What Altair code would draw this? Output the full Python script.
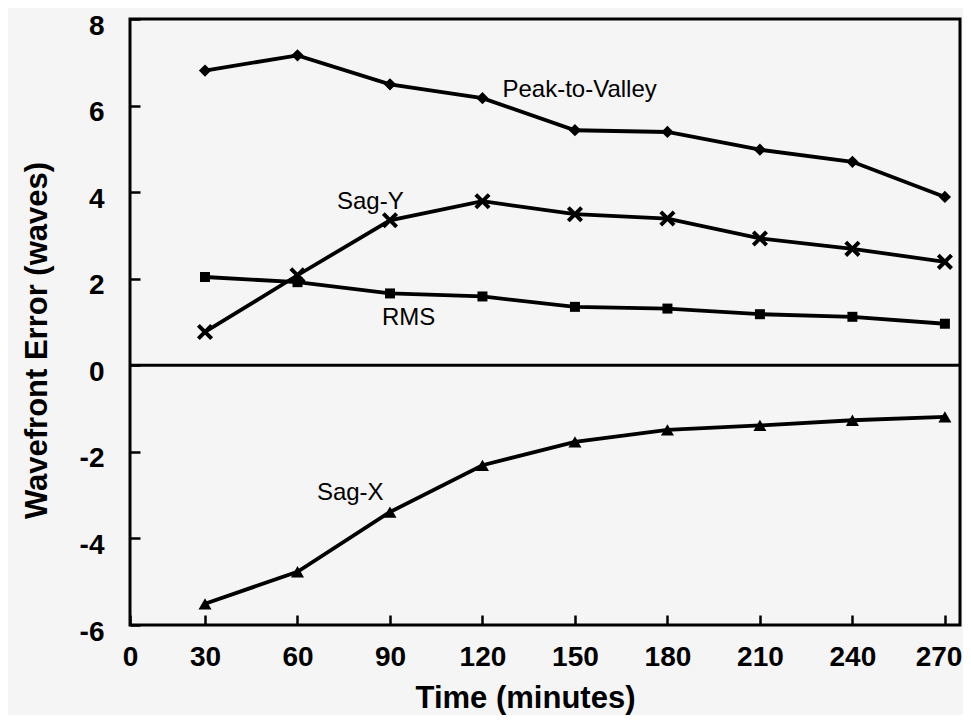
import altair as alt
import pandas as pd

times = [30, 60, 90, 120, 150, 180, 210, 240, 270]
peak_to_valley = [6.81, 7.16, 6.49, 6.17, 5.43, 5.39, 4.98, 4.70, 3.89]
sag_y = [0.77, 2.08, 3.35, 3.79, 3.49, 3.39, 2.93, 2.69, 2.39]
rms = [2.04, 1.92, 1.66, 1.59, 1.35, 1.31, 1.18, 1.12, 0.96]
sag_x = [-5.51, -4.77, -3.39, -2.31, -1.77, -1.49, -1.39, -1.27, -1.19]

series_names = ["Peak-to-Valley", "Sag-Y", "RMS", "Sag-X"]
series_values = [peak_to_valley, sag_y, rms, sag_x]
marker_sizes = [150, 260, 100, 170]

label_text = ["Peak-to-Valley", "Sag-Y", "RMS", "Sag-X"]
label_t = [126.5, 72.8, 87.4, 66.3]
label_v = [6.37, 3.78, 1.09, -2.95]

x_ticks = [5.67, 30, 60, 90, 120, 150, 180, 210, 240, 270]
y_ticks = [-6, -4, -2, 0, 2, 4, 6, 8]
x_domain = [5.67, 274.9]
y_domain = [-6, 8]

rows = []
for name, vals, sz in zip(series_names, series_values, marker_sizes):
    for t, v in zip(times, vals):
        rows.append({"series": name, "t": t, "v": v, "sz": sz})
df = pd.DataFrame(rows)
labels_df = pd.DataFrame({"text": label_text, "t": label_t, "v": label_v})

x_enc = alt.X(
    "t:Q",
    scale=alt.Scale(domain=x_domain, nice=False, zero=False),
    axis=alt.Axis(
        title="Time (minutes)",
        values=x_ticks,
        labelExpr="datum.value < 20 ? '0' : format(datum.value, 'd')",
        labelAlign={"condition": {"test": "datum.value > 260", "value": "right"}, "value": "center"},
        labelOffset={"condition": {"test": "datum.value > 260", "value": 17}, "value": 0},
        offset=-10, tickSize=10, tickWidth=2.5, tickColor="black",
        domain=False, grid=False,
        labelPadding=18, titlePadding=12, titleX=395,
        labelFontSize=28,
    ),
)
y_enc = alt.Y(
    "v:Q",
    scale=alt.Scale(domain=y_domain, nice=False, zero=False),
    axis=alt.Axis(
        title="Wavefront Error (waves)",
        values=y_ticks,
        labelExpr="datum.value < 0 ? '-' + abs(datum.value) : datum.label",
        offset=-10, tickSize=10, tickWidth=2.5, tickColor="black",
        domain=False, grid=False,
        labelPadding=26, titlePadding=26, titleY=321, labelOffset=7,
        labelFontSize=28,
    ),
)

lines = alt.Chart(df).mark_line(color="black", strokeWidth=3.8).encode(
    x=x_enc, y=y_enc, detail="series:N"
)

x_path = "M-1,-0.65L-0.65,-1L0,-0.35L0.65,-1L1,-0.65L0.35,0L1,0.65L0.65,1L0,0.35L-0.65,1L-1,0.65L-0.35,0Z"
points = alt.Chart(df).mark_point(filled=True, opacity=1, color="black").encode(
    x="t:Q",
    y="v:Q",
    shape=alt.Shape(
        "series:N",
        scale=alt.Scale(domain=series_names, range=["diamond", x_path, "square", "triangle-up"]),
        legend=None,
    ),
    size=alt.Size("sz:Q", scale=None, legend=None),
)

zero_line = alt.Chart(pd.DataFrame({"z": [0]})).mark_rule(color="black", strokeWidth=3).encode(
    y="z:Q"
)

texts = alt.Chart(labels_df).mark_text(
    align="left", baseline="middle", font="Liberation Sans", fontSize=24, color="black"
).encode(x="t:Q", y="v:Q", text="text:N")

chart = (
    alt.layer(zero_line, lines, points, texts)
    .properties(
        width=830,
        height=606,
        background="#f5f5f5",
        autosize=alt.AutoSizeParams(type="none"),
        padding={"left": 122, "top": 11, "right": 3, "bottom": 90},
    )
    .configure_view(stroke="black", strokeWidth=3)
    .configure_axis(
        labelFont="Liberation Sans", labelFontWeight="bold", labelColor="black",
        titleFont="Liberation Sans", titleFontWeight="bold", titleFontSize=31, titleColor="black",
    )
)

chart.save("out.html", embed_options={"renderer": "svg", "actions": False})
